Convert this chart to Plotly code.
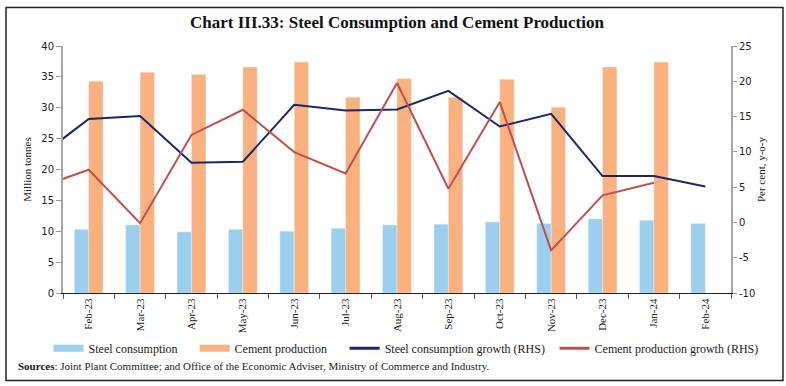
import plotly.graph_objects as go

months = ["Jan-23", "Feb-23", "Mar-23", "Apr-23", "May-23", "Jun-23", "Jul-23", "Aug-23",
          "Sep-23", "Oct-23", "Nov-23", "Dec-23", "Jan-24", "Feb-24"]
bar_months = months[1:]

steel_consumption = [10.3, 11.0, 9.9, 10.3, 10.0, 10.5, 11.0, 11.15, 11.5, 11.25, 12.0, 11.8, 11.25]
cement_production = [34.3, 35.75, 35.4, 36.6, 37.4, 31.7, 34.7, 31.7, 34.6, 30.1, 36.6, 37.4, None]

steel_growth = [9.1, 14.65, 15.07, 8.46, 8.6, 16.67, 15.87, 16.0, 18.65, 13.6, 15.4, 6.57, 6.57, 5.1]
cement_growth = [4.9, 7.46, -0.1, 12.4, 15.96, 9.97, 6.94, 19.75, 4.77, 17.05, -3.97, 3.83, 5.62, None]

left_ticks = [0, 5, 10, 15, 20, 25, 30, 35, 40]
right_ticks = [-10, -5, 0, 5, 10, 15, 20, 25]
right_tick_text = ["-10", "-5", "0", "5", "10", "15", "20", "25"]

C_BLUE = "#9ccfee"
C_ORANGE = "#f9b27f"
C_NAVY = "#1f2468"
C_RED = "#c0504d"
SERIF = "Liberation Serif"
SANS = "DejaVu Sans"

fig = go.Figure()
fig.add_trace(go.Bar(x=bar_months, y=steel_consumption, marker_color=C_BLUE,
                     name="Steel consumption", showlegend=False))
fig.add_trace(go.Bar(x=bar_months, y=cement_production, marker_color=C_ORANGE,
                     name="Cement production", showlegend=False))
fig.add_trace(go.Scatter(x=months, y=steel_growth, yaxis="y2", mode="lines",
                         line=dict(color=C_NAVY, width=2), name="Steel consumption growth (RHS)",
                         showlegend=False))
fig.add_trace(go.Scatter(x=months, y=cement_growth, yaxis="y2", mode="lines",
                         line=dict(color=C_RED, width=2), name="Cement production growth (RHS)",
                         showlegend=False))

# legend entries, each in its own legend for exact placement
legend_items = [("Steel consumption", C_BLUE, 7, "legend", -0.0216),
                ("Cement production", C_ORANGE, 7, "legend2", 0.1970),
                ("Steel consumption growth (RHS)", C_NAVY, 3, "legend3", 0.4216),
                ("Cement production growth (RHS)", C_RED, 3, "legend4", 0.7359)]
legend_layout = {}
for nm, col, w, lg, lx in legend_items:
    fig.add_trace(go.Scatter(x=[None], y=[None], mode="lines", line=dict(color=col, width=w),
                             name=nm, showlegend=True, legend=lg))
    legend_layout[lg] = dict(orientation="h", x=lx, xanchor="left", y=-0.165, yanchor="top",
                             font=dict(family=SERIF, size=12, color="#222"), itemwidth=30,
                             bgcolor="rgba(0,0,0,0)")

fig.update_layout(
    width=786, height=386,
    margin=dict(l=63, r=55, t=46, b=93),
    paper_bgcolor="white", plot_bgcolor="white",
    barmode="group", bargap=0.44, bargroupgap=0,
    title=dict(text="<b>Chart III.33: Steel Consumption and Cement Production</b>",
               x=0.5, xanchor="center", y=0.943, yanchor="middle", xref="paper",
               font=dict(family=SERIF, size=17, color="#111")),
    xaxis=dict(type="category", categoryorder="array", categoryarray=months,
               range=[0.5, 13.5], tickangle=-90, tickson="boundaries",
               ticks="outside", ticklen=5, tickcolor="#555",
               showline=True, linecolor="#222", linewidth=1.2,
               tickfont=dict(family=SERIF, size=11, color="#222"), showgrid=False, zeroline=False),
    yaxis=dict(range=[0, 40], tickvals=left_ticks, ticks="outside", ticklen=5, tickcolor="#999",
               showline=True, linecolor="#a6a6a6", linewidth=2, showgrid=False, zeroline=False,
               tickfont=dict(family=SANS, size=10, color="#222"),
               title=dict(text="Million tonnes", font=dict(family=SERIF, size=11, color="#222"),
                          standoff=7)),
    yaxis2=dict(range=[-10, 25], tickvals=right_ticks, ticktext=right_tick_text,
                overlaying="y", side="right", ticks="outside",
                ticklen=4, tickcolor="#999", showline=True, linecolor="#a6a6a6", linewidth=2,
                showgrid=False, zeroline=False,
                tickfont=dict(family=SANS, size=10, color="#222"),
                title=dict(text="Per cent, y-o-y", font=dict(family=SERIF, size=11, color="#222"),
                           standoff=3)),
    shapes=[dict(type="rect", xref="paper", yref="paper", x0=-0.0853, x1=1.0778,
                 y0=-0.3542, y1=1.1563, line=dict(color="#222", width=1.5))],
    annotations=[dict(text="<b>Sources</b>: Joint Plant Committee; and Office of the Economic Adviser, Ministry of Commerce and Industry.",
                      xref="paper", yref="paper", x=-0.071, y=-0.294, xanchor="left", yanchor="middle",
                      showarrow=False, font=dict(family=SERIF, size=11, color="#222"))],
    **legend_layout,
)

fig.write_html("out.html", config={"displayModeBar": False},
               post_script="document.body.style.margin='0';")
